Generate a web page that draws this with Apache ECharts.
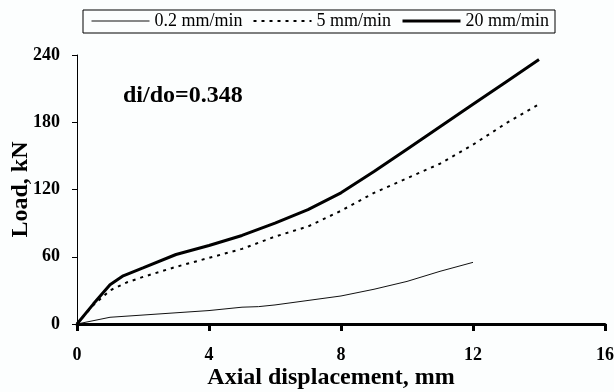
<!DOCTYPE html>
<html>
<head>
<meta charset="utf-8">
<script src="https://cdn.jsdelivr.net/npm/echarts@6/dist/echarts.min.js"></script>
<style>
html,body{margin:0;padding:0;background:#fcfefe;}
#chart{width:614px;height:392px;}
</style>
</head>
<body>
<div id="chart"></div>
<script>
// Data
var seriesNames = ['0.2 mm/min', '5 mm/min', '20 mm/min'];
var xTicks = [0, 4, 8, 12, 16];
var yTicks = [0, 60, 120, 180, 240];

var slowX = [0, 1, 2, 3, 4, 5, 5.5, 6, 7, 8, 9, 10, 11, 12];
var slowY = [0, 6, 8, 10, 12, 15, 15.5, 17, 21, 25, 31, 38, 47, 55];

var midX = [0, 0.5, 1, 1.5, 2, 3, 4, 5, 6, 7, 8, 9, 10, 11, 12, 13, 14];
var midY = [0, 17, 30, 37, 42, 51, 59, 67, 78, 87, 101, 117, 130, 143, 160, 179, 196];

var fastX = [0, 0.5, 1, 1.4, 2, 3, 4, 5, 6, 7, 8, 9, 10, 11, 12, 13, 14];
var fastY = [0, 18, 35, 43, 50, 62, 70, 79, 90, 102, 117, 136, 156, 176, 196, 216, 236];

function pairs(xs, ys) {
  return xs.map(function (x, i) { return [x, ys[i]]; });
}

var font = '"Liberation Serif", "Times New Roman", serif';
var chart = echarts.init(document.getElementById('chart'));
chart.setOption({
  backgroundColor: '#fcfefe',
  animation: false,
  textStyle: { fontFamily: font, color: '#000' },
  grid: { left: 77, right: 9, top: 55, bottom: 68, containLabel: false, outerBoundsMode: 'none' },
  legend: {
    left: 83, top: 10,
    data: [
      { name: seriesNames[0], lineStyle: { width: 1 } },
      { name: seriesNames[1], lineStyle: { width: 2 } },
      { name: seriesNames[2], lineStyle: { width: 3 } }
    ],
    itemWidth: 58, itemHeight: 10, itemGap: 10,
    padding: [2, 6, 3, 8],
    borderColor: '#000', borderWidth: 1,
    itemStyle: { opacity: 0 },
    textStyle: { fontFamily: font, fontSize: 18, color: '#000' }
  },
  graphic: [{
    type: 'text', left: 123, top: 84,
    style: { text: 'di/do=0.348', font: 'bold 24px ' + font, fill: '#000' }
  }],
  xAxis: {
    type: 'value', min: xTicks[0], max: xTicks[xTicks.length - 1], interval: 4,
    name: 'Axial displacement, mm', nameLocation: 'middle', nameGap: 42, nameMoveOverlap: false,
    nameTextStyle: { fontFamily: font, fontSize: 24, fontWeight: 'bold', color: '#000', padding: [0, 20, 0, 0] },
    axisLine: { lineStyle: { color: '#000', width: 3 } },
    axisTick: { length: 7, lineStyle: { color: '#000', width: 3 } },
    axisLabel: { margin: 22, fontFamily: font, fontSize: 18, fontWeight: 'bold', color: '#000' },
    splitLine: { show: false }
  },
  yAxis: {
    type: 'value', min: yTicks[0], max: yTicks[yTicks.length - 1], interval: 60,
    name: 'Load, kN', nameLocation: 'middle', nameGap: 44, nameRotate: 90, nameMoveOverlap: false,
    nameTextStyle: { fontFamily: font, fontSize: 24, fontWeight: 'bold', color: '#000' },
    axisLine: { show: true, lineStyle: { color: '#000', width: 1 } },
    axisTick: { show: true, length: 5, lineStyle: { color: '#000', width: 1 } },
    axisLabel: { margin: 17, fontFamily: font, fontSize: 18, fontWeight: 'bold', color: '#000' },
    splitLine: { show: false }
  },
  series: [
    { name: seriesNames[0], type: 'line', data: pairs(slowX, slowY), symbol: 'none', showSymbol: false,
      lineStyle: { color: '#111', width: 1 }, itemStyle: { color: '#111' } },
    { name: seriesNames[1], type: 'line', data: pairs(midX, midY), symbol: 'none', showSymbol: false,
      lineStyle: { color: '#000', width: 2, type: [3, 5] }, itemStyle: { color: '#000' } },
    { name: seriesNames[2], type: 'line', data: pairs(fastX, fastY), symbol: 'none', showSymbol: false,
      lineStyle: { color: '#000', width: 3 }, itemStyle: { color: '#000' } }
  ]
});
</script>
</body>
</html>
